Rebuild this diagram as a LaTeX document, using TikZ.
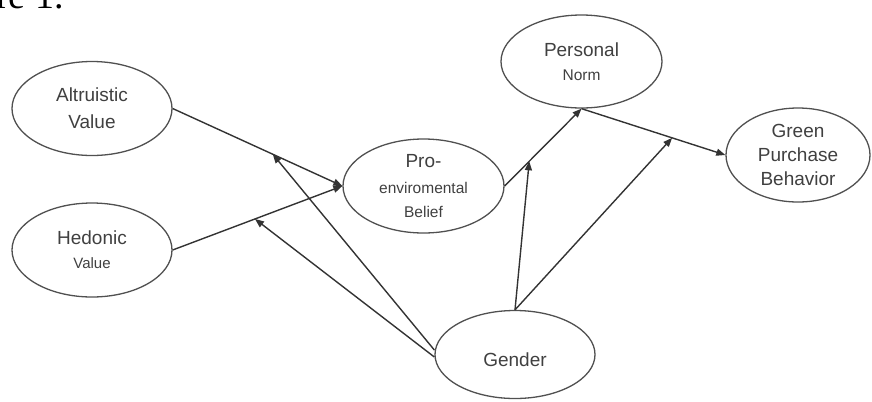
\documentclass[tikz,border=0pt]{standalone}
\usepackage{fontspec}
\setmainfont{Liberation Sans}
\newfontfamily\capfont{Liberation Serif}
\usetikzlibrary{shapes.geometric,arrows.meta}
\definecolor{ln}{HTML}{333333}
\definecolor{tx}{HTML}{404040}
\definecolor{el}{HTML}{505050}
\begin{document}
\begin{tikzpicture}[x=1bp,y=-1bp,
  var/.style={ellipse,draw=el,line width=1.3bp,minimum width=160bp,minimum height=94bp,
    inner sep=0pt,align=center,text=tx,font=\fontsize{19bp}{24bp}\selectfont},
  arr/.style={draw=ln,line width=1.4bp,-{Triangle[length=9bp,width=7bp]}}]
\useasboundingbox (0,0) rectangle (872,401);
\node[anchor=base east,inner sep=0pt,font=\capfont\fontsize{38bp}{40bp}\selectfont] (cap) at (64,8) {Figure 1.};
\node[var] (alt) at (92,108.5) {Altruistic\\[3bp]Value};
\node[var] (hed) at (92,250) {Hedonic\\\fontsize{15bp}{20bp}\selectfont Value};
\node[var,minimum width=161bp] (pro) at (423.5,186) {Pro-\\[2bp]\fontsize{15.5bp}{20bp}\selectfont enviromental\\\fontsize{15.5bp}{20bp}\selectfont Belief};
\node[var,minimum width=161bp,minimum height=93bp] (per) at (581.5,61.5) {Personal\\\fontsize{15.5bp}{20bp}\selectfont Norm};
\node[var,minimum width=144bp] (grn) at (798,155) {Green\\Purchase\\Behavior};
\node[var,minimum height=88bp] (gen) at (515,354.5) {\raisebox{-12bp}[0pt][0pt]{Gender}};
\draw[arr] (alt.east) -- coordinate[pos=0.59] (m1) (pro.west);
\draw[arr] (hed.east) -- coordinate[pos=0.485] (m2) (pro.west);
\draw[arr] (pro.east) -- coordinate[pos=0.32] (m3) (per.south);
\draw[arr] (per.south) -- coordinate[pos=0.63] (m4) (grn.west);
\draw[arr] ([yshift=4.5bp]gen.west) -- (m1);
\draw[arr] ([yshift=-2.5bp]gen.west) -- (m2);
\draw[arr] (gen.north) -- (m3);
\draw[arr] (gen.north) -- (m4);
\end{tikzpicture}
\end{document}
